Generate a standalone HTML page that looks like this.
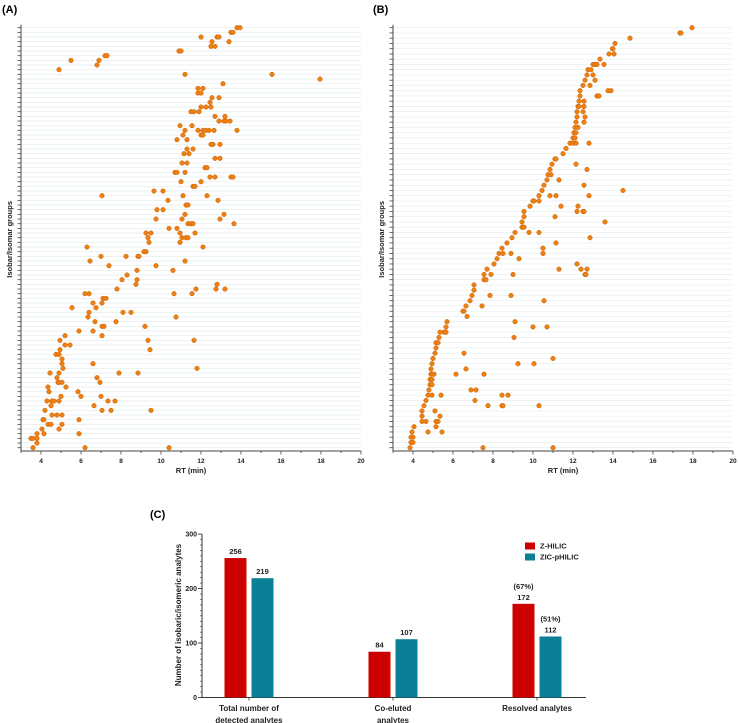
<!DOCTYPE html>
<html><head><meta charset="utf-8"><style>
html,body{margin:0;padding:0;background:#fff;}
svg{display:block;font-family:"Liberation Sans",Arial,sans-serif;}
</style></head><body>
<svg id="fig" width="738" height="723" viewBox="0 0 738 723" xmlns="http://www.w3.org/2000/svg">
<text x="2" y="13" font-size="11" font-weight="bold">(A)</text>
<text x="373" y="13" font-size="11" font-weight="bold">(B)</text>
<text x="150" y="518" font-size="11" font-weight="bold">(C)</text>
<g id="pa"></g>
<g id="pb"></g>
<g id="pc"></g>
</svg>
<script>
// Panel A: [row, RT...]
const rowsA = [
[90,13.8,13.95],[89,13.5,13.6],[88,12.0,12.8,12.9],[87,12.55,13.4],[86,12.5,12.7],[85,10.9,11.0],[84,7.2,7.3],[83,5.5,6.9],[82,6.8],[81,4.9],[80,11.2,15.55],[79,17.95],[78,13.1],[77,11.85,12.1],[76,11.85,12.0],[75,12.55,12.9],[74,12.45],[73,12.0,12.25,12.5],[72,11.5,11.65,11.9],[71,12.7,13.2],[70,12.9,13.15,13.25,13.45],[69,10.95,11.55],[68,11.2,11.85,12.1,12.25,12.4,12.65,13.8],[67,11.1,12.0,12.1],[66,10.8,11.3],[65,12.5,12.6,12.95],[64,11.3,11.6],[63,11.15,11.4],[62,12.7,12.95],[61,11.05,11.3],[60,12.2,12.3],[59,10.7,10.8,11.2],[58,12.45,12.7,13.5,13.6],[57,11.0,12.0],[56,11.6,11.7],[55,9.65,10.1],[54,7.05,11.1,12.3],[53,10.35,12.85],[52,11.25,11.35],[51,9.8,10.1],[50,11.2,13.15],[49,9.75,11.05,12.95],[48,11.35,11.5,11.6,13.65],[47,10.4,10.8],[46,9.25,9.5,10.95,11.7],[45,9.35,11.05,11.25,11.35],[44,9.4,10.95],[43,6.3,12.1],[42,9.15,9.25],[41,7.0,8.25,8.85,8.9],[40,6.45,11.2],[39,7.4,9.75],[38,8.8,10.6],[37,8.3],[36,8.05,8.8],[35,8.75,12.8],[34,7.8,11.75,12.75,13.2],[33,6.2,6.4,10.65,11.55],[32,7.1,7.25],[31,6.6,7.05],[30,5.55,6.75],[29,6.4,8.1,8.5],[28,6.35,10.75],[27,6.7,7.75],[26,7.05,7.15,9.2],[25,5.9,6.6],[24,5.2,7.05],[23,4.95,9.35,11.65],[22,5.2,5.45],[21,4.95,9.45],[20,4.75,4.9],[19,5.05],[18,5.05,6.6],[17,5.1,11.8],[16,4.45,4.9,7.9,8.85],[15,4.8,6.8],[14,4.85,4.9,5.05,6.95],[13,4.35,5.25],[12,4.4,5.85],[11,5.0,6.0,7.0],[10,4.3,4.55,4.65,4.9,7.35,7.7],[9,4.5,6.65],[8,4.2,7.05,7.5,9.5],[7,4.55,4.8,5.05],[6,4.1,4.15,5.9],[5,4.35,4.5,5.05],[4,4.05,4.9],[3,3.8,4.15,5.9],[2,3.5,3.6,3.8],[1,3.8],[0,3.6,6.2,10.4]
];
// Panel B: [row, RT...]
const rowsB = [
[80,17.95],[79,17.35,17.4],[78,14.85],[77,14.1],[76,13.97,14.0],[75,13.8,14.05],[74,13.35],[73,13.0,13.1,13.2,13.55],[72,12.75,12.9],[71,12.7,13.0],[70,12.6,13.1],[69,12.5,12.85],[68,12.35,13.75,13.9],[67,12.35,13.2,13.3],[66,12.3,12.55],[65,12.25,12.3,12.55],[64,12.2,12.5],[63,12.2,12.6],[62,12.15,12.55],[61,12.1,12.25],[60,12.05,12.15],[59,12.0,12.1],[58,11.85,12.0,12.15,12.8],[57,11.65],[56,11.5],[55,11.1,11.15],[54,10.95,12.15],[53,10.85,12.7],[52,10.75,10.9],[51,10.7,11.3],[50,10.55,12.55],[49,10.45,14.5],[48,10.3,10.85,11.15,12.8],[47,10.0,10.05,10.3],[46,9.85,11.4,12.25],[45,9.55,12.2,12.5,12.55],[44,9.55,11.1],[43,9.45,13.6],[42,9.45,9.55],[41,9.1,9.8,10.3],[40,8.95,12.85],[39,8.7,11.15],[38,8.45,10.5],[37,8.3,8.5,8.9,10.5],[36,8.2,9.3],[35,8.05,12.2],[34,7.7,11.3,12.4,12.7],[33,7.55,7.9,9.0,12.6,12.65],[32,7.55,7.65],[31,7.05],[30,7.05],[29,6.95,7.85,8.9],[28,6.85,10.55],[27,6.65,7.45],[26,6.5,6.55],[25,6.7],[24,5.7,9.1],[23,5.65,10.0,10.7],[22,5.35,5.55,5.65],[21,5.3,9.05],[20,5.15,5.25],[19,5.15],[18,5.1,6.55],[17,5.0,11.0],[16,4.95,9.25,10.05],[15,4.9,6.65],[14,4.9,4.95,5.05,6.15,7.55],[13,4.85,4.95],[12,4.85,4.95],[11,4.8,6.9,7.15],[10,4.75,4.95,5.4,8.45,8.75],[9,4.65,7.1],[8,4.55,7.75,8.45,8.5,10.3],[7,4.45,5.1],[6,4.45,5.35],[5,4.45,4.65,5.15,5.25],[4,4.05,5.15],[3,3.95,4.75,5.45],[2,3.9,4.0],[1,3.9,4.0],[0,3.85,7.5,11.0]
];
const xTicks = [4,6,8,10,12,14,16,18,20];
// Panel C
const categories = ["Total number of|detected analytes","Co-eluted|analytes","Resolved analytes"];
const zhilic = [256,84,172];
const zicphilic = [219,107,112];
const pctZ = ["", "", "(67%)"];
const pctP = ["", "", "(51%)"];
const yTicksC = [0,100,200,300];

const NS="http://www.w3.org/2000/svg";
function mk(tag,attrs,parent){const e=document.createElementNS(NS,tag);for(const k in attrs)e.setAttribute(k,attrs[k]);parent.appendChild(e);return e;}

function scatter(g,rows,nRows,x0,yTop,yBot){
  const xs=v=>x0+(v-3)*20;
  const ys=r=>yBot-3.3-(r)*((yBot-3.3-yTop)/(nRows-1));
  for(let r=0;r<nRows;r++){
    const y=ys(r);
    const gl=mk('line',{x1:x0+1,x2:x0+340,y1:y,y2:y,stroke:'#e3eeee','stroke-width':0.7},g);
    
    
    const tk=mk('line',{x1:x0-3.5,x2:x0,y1:y,y2:y,stroke:'#444','stroke-width':0.8},g);
    
    
  }
  const ya=mk('line',{x1:x0,x2:x0,y1:yTop-3,y2:yBot,stroke:'#444','stroke-width':1},g);
  
  
  const xa=mk('line',{x1:x0,x2:x0+340,y1:yBot,y2:yBot,stroke:'#444','stroke-width':1},g);
  
  
  for(let v=3;v<=20;v++){
    const t=mk('line',{x1:xs(v),x2:xs(v),y1:yBot,y2:yBot+(v%2===0?3.5:2),stroke:'#444','stroke-width':0.8},g);
    
    
  }
  xTicks.forEach(v=>{
    const t=mk('text',{x:xs(v),y:yBot+12,'font-size':6.5,'font-weight':'bold','text-anchor':'middle',fill:'#222'},g);
    t.textContent=v;
    
    
  });
  const xl=mk('text',{x:xs(11.5),y:yBot+22,'font-size':7.5,'font-weight':'bold','text-anchor':'middle',fill:'#222'},g);
  xl.textContent='RT (min)';
  
  
  const cy=(yTop+yBot)/2;
  const yl=mk('text',{x:x0-9,y:cy,'font-size':7.5,'font-weight':'bold','text-anchor':'middle',fill:'#222',transform:`rotate(-90 ${x0-9} ${cy})`},g);
  yl.textContent='Isobar/Isomar groups';
  
  
  rows.forEach(row=>{
    const r=row[0];
    for(let i=1;i<row.length;i++){
      const c=mk('circle',{cx:xs(row[i]),cy:ys(r),r:2.3,fill:'#ee7f12',stroke:'#c8650a','stroke-width':0.5},g);
      
      
    }
  });
}
scatter(document.getElementById('pa'),rowsA,91,21,27.7,451);
scatter(document.getElementById('pb'),rowsB,81,393,27.7,451);

// Panel C
(function(){
  const g=document.getElementById('pc');
  const x0=202,xEnd=586,y0=697.5,ppu=0.5447;
  const ys=v=>y0-v*ppu;
  const centers=[249,393,537];
  const bw=22,gap=5;
  for(let v=0;v<=300;v+=10){
    const major=v%100===0;
    const t=mk('line',{x1:x0-(major?4:2),x2:x0,y1:ys(v),y2:ys(v),stroke:'#333','stroke-width':major?0.9:0.6},g);
    
    
  }
  yTicksC.forEach(v=>{
    const t=mk('text',{x:x0-5,y:ys(v)+2.5,'font-size':7,'font-weight':'bold','text-anchor':'end',fill:'#222'},g);
    t.textContent=v;
    
    
  });
  const ya=mk('line',{x1:x0,x2:x0,y1:ys(300),y2:y0,stroke:'#333','stroke-width':1},g);
  
  
  const xa=mk('line',{x1:x0,x2:xEnd,y1:y0,y2:y0,stroke:'#333','stroke-width':1},g);
  
  
  const yl=mk('text',{x:181,y:615,'font-size':8,'font-weight':'bold','text-anchor':'middle',fill:'#222',transform:'rotate(-90 181 615)'},g);
  yl.textContent='Number of isobaric/isomeric analytes';
  
  
  categories.forEach((cat,i)=>{
    const c=centers[i];
    const tk=mk('line',{x1:c,x2:c,y1:y0,y2:y0+3,stroke:'#333','stroke-width':0.8},g);
    
    
    cat.split('|').forEach((ln,j)=>{
      const t=mk('text',{x:c,y:711+j*12,'font-size':8,'font-weight':'bold','text-anchor':'middle',fill:'#222'},g);
      t.textContent=ln;
      
      
    });
    [[zhilic,'#cc0000',pctZ,c-gap/2-bw],[zicphilic,'#0b7f95',pctP,c+gap/2]].forEach(([arr,col,pct,bx])=>{
      const v=arr[i];
      const b=mk('rect',{x:bx,y:ys(v),width:bw,height:v*ppu,fill:col},g);
      
      
      const t=mk('text',{x:bx+bw/2,y:ys(v)-4,'font-size':7.5,'font-weight':'bold','text-anchor':'middle',fill:'#222'},g);
      t.textContent=v;
      
      
      if(pct[i]){
        const p=mk('text',{x:bx+bw/2,y:ys(v)-15,'font-size':7.5,'font-weight':'bold','text-anchor':'middle',fill:'#222'},g);
        p.textContent=pct[i];
        
        
      }
    });
  });
  [['Z-HILIC','#cc0000',546],['ZIC-pHILIC','#0b7f95',557]].forEach(([lab,col,y])=>{
    const r=mk('rect',{x:525,y:y-3.5,width:10,height:7,fill:col},g);
    
    
    const t=mk('text',{x:540,y:y+2.7,'font-size':7.5,'font-weight':'bold',fill:'#222'},g);
    t.textContent=lab;
    
    
  });
})();
</script>
</body></html>
